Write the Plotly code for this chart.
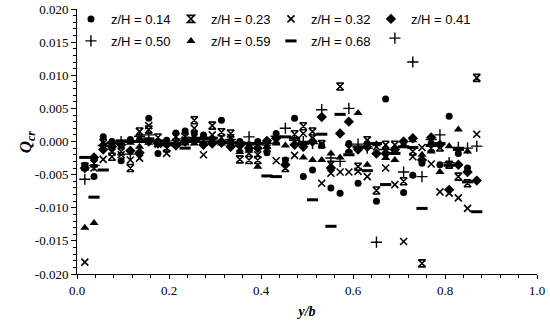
import plotly.graph_objects as go

# y/b positions of the measurement columns
y_b = [0.017, 0.037, 0.057, 0.076, 0.096, 0.116, 0.136, 0.156, 0.176, 0.195,
       0.215, 0.235, 0.255, 0.275, 0.294, 0.314, 0.334, 0.354, 0.374, 0.393,
       0.413, 0.433, 0.453, 0.473, 0.492, 0.512, 0.532, 0.552, 0.572, 0.591,
       0.611, 0.631, 0.651, 0.671, 0.691, 0.710, 0.730, 0.750, 0.770, 0.789,
       0.809, 0.829, 0.849, 0.869]

q_014 = [-0.0036, -0.0053, 0.0007, 0.0000, -0.0029, 0.0003, 0.0003, 0.0035, -0.0018, 0.0002,
         0.0013, 0.0016, 0.0012, 0.0010, 0.0003, 0.0032, 0.0000, 0.0000, -0.0005, 0.0000,
         -0.0017, 0.0012, -0.0028, 0.0035, -0.0053, -0.0043, -0.0006, -0.0070, -0.0078, -0.0003,
         -0.0063, -0.0003, -0.0090, 0.0064, -0.0015, -0.0077, -0.0051, -0.0033, -0.0003, -0.0035,
         0.0038, -0.0018, -0.0040, None]
q_023 = [-0.0038, -0.0033, -0.0002, -0.0023, -0.0015, -0.0040, 0.0015, 0.0018, 0.0006, -0.0010,
         0.0007, 0.0007, 0.0032, 0.0002, 0.0024, 0.0014, 0.0012, -0.0027, -0.0028, -0.0028,
         -0.0005, 0.0002, -0.0040, 0.0011, 0.0023, 0.0015, -0.0004, -0.0035, 0.0083, -0.0010,
         -0.0038, 0.0002, -0.0074, -0.0005, -0.0005, -0.0060, -0.0015, -0.0184, -0.0010, -0.0009,
         -0.0035, -0.0053, -0.0063, 0.0096]
q_032 = [-0.0182, -0.0040, -0.0027, -0.0016, -0.0020, -0.0028, -0.0025, 0.0024, -0.0004, -0.0018,
         -0.0001, 0.0002, 0.0020, -0.0020, 0.0010, 0.0006, 0.0006, -0.0010, -0.0018, -0.0020,
         -0.0010, -0.0029, -0.0030, -0.0021, 0.0012, 0.0005, -0.0063, -0.0048, -0.0046, -0.0046,
         -0.0045, -0.0053, -0.0008, -0.0040, -0.0065, -0.0151, -0.0023, -0.0009, -0.0034, -0.0076,
         -0.0078, -0.0085, -0.0101, 0.0011]
q_041 = [-0.0040, -0.0024, -0.0012, -0.0008, -0.0005, -0.0014, -0.0017, 0.0000, -0.0003, -0.0004,
         -0.0006, 0.0000, 0.0003, -0.0005, -0.0003, -0.0002, -0.0008, -0.0006, -0.0010, -0.0010,
         0.0001, 0.0005, -0.0035, -0.0005, -0.0008, 0.0000, 0.0037, -0.0040, 0.0012, 0.0030,
         -0.0012, -0.0008, -0.0018, -0.0018, -0.0012, 0.0000, 0.0005, -0.0028, 0.0006, -0.0005,
         -0.0073, -0.0035, -0.0046, -0.0059]
q_050 = [-0.0057, -0.0036, -0.0006, -0.0003, 0.0000, -0.0019, 0.0008, 0.0010, 0.0000, -0.0006,
         0.0001, 0.0004, 0.0006, 0.0000, 0.0000, 0.0000, 0.0003, -0.0003, 0.0007, -0.0005,
         -0.0003, 0.0008, 0.0020, 0.0002, 0.0000, -0.0003, 0.0048, -0.0025, -0.0030, 0.0050,
         -0.0004, -0.0010, -0.0152, -0.0012, 0.0156, -0.0046, 0.0120, -0.0053, 0.0003, 0.0010,
         -0.0032, -0.0009, -0.0010, -0.0007]
q_059 = [-0.0130, -0.0123, -0.0003, -0.0005, -0.0002, -0.0002, -0.0008, -0.0002, -0.0005, -0.0002,
         -0.0002, -0.0003, -0.0003, -0.0003, -0.0002, -0.0003, -0.0004, -0.0016, -0.0014, -0.0038,
         -0.0008, -0.0003, -0.0006, -0.0003, -0.0024, -0.0028, -0.0028, -0.0018, -0.0024, -0.0015,
         0.0043, -0.0035, -0.0004, -0.0025, -0.0028, -0.0005, 0.0002, -0.0020, -0.0015, -0.0046,
         -0.0007, 0.0018, -0.0015, None]
q_068 = [-0.0024, -0.0084, -0.0043, -0.0002, 0.0001, 0.0000, 0.0000, 0.0004, 0.0001, -0.0004,
         -0.0003, -0.0010, 0.0000, 0.0004, 0.0005, -0.0001, -0.0002, -0.0002, -0.0003, -0.0003,
         -0.0052, -0.0053, 0.0007, 0.0005, -0.0003, -0.0088, 0.0011, -0.0128, 0.0041, -0.0020,
         -0.0008, -0.0044, -0.0003, -0.0065, -0.0018, -0.0008, -0.0009, -0.0101, -0.0006, -0.0003,
         -0.0036, -0.0012, -0.0061, -0.0106]

series_names = ["z/H = 0.14", "z/H = 0.23", "z/H = 0.32", "z/H = 0.41",
                "z/H = 0.50", "z/H = 0.59", "z/H = 0.68"]
series_values = [q_014, q_023, q_032, q_041, q_050, q_059, q_068]

y_tick_vals = [0.020, 0.015, 0.010, 0.005, 0.000, -0.005, -0.010, -0.015, -0.020]
y_tick_text = ["0.020", "0.015", "0.010", "0.005", "0.000", "-0.005", "-0.010", "-0.015", "-0.020"]
x_tick_vals = [0.0, 0.2, 0.4, 0.6, 0.8, 1.0]
x_tick_text = ["0.0", "0.2", "0.4", "0.6", "0.8", "1.0"]

styles = [
    dict(symbol="circle", size=7, color="black"),
    dict(symbol="hourglass-open", size=7, color="black", line=dict(width=1.6, color="black")),
    dict(symbol="x-thin-open", size=7, color="black", line=dict(width=1.6, color="black")),
    dict(symbol="diamond", size=8, color="black"),
    dict(symbol="cross-thin-open", size=8, color="black", line=dict(width=1.4, color="black")),
    dict(symbol="triangle-up", size=8, color="black"),
    dict(symbol="line-ew-open", size=8, color="black", line=dict(width=3, color="black")),
]
legend_rows = ["legend", "legend", "legend", "legend", "legend2", "legend2", "legend2"]

fig = go.Figure()
for name, vals, st, lg in zip(series_names, series_values, styles, legend_rows):
    fig.add_trace(go.Scatter(x=y_b, y=vals, mode="markers", name=name, marker=st, legend=lg))

serif = "Times New Roman, Liberation Serif, serif"
sans = "Liberation Sans"
leg_common = dict(orientation="h", xanchor="left", yanchor="top", xref="container",
                  entrywidth=55, entrywidthmode="pixels", itemwidth=30,
                  font=dict(family=sans, size=13, color="black"),
                  bgcolor="rgba(0,0,0,0)", borderwidth=0)
fig.update_layout(
    width=550, height=327,
    margin=dict(l=77, r=13, t=9, b=53, autoexpand=False),
    paper_bgcolor="white", plot_bgcolor="white",
    showlegend=True,
    legend=dict(x=0.129, y=1.019, **leg_common),
    legend2=dict(x=0.129, y=0.936, **leg_common),
    xaxis=dict(range=[0, 1.0], tickvals=x_tick_vals, ticktext=x_tick_text,
               showline=True, linecolor="black", linewidth=1, mirror=False,
               ticks="outside", ticklen=4, tickcolor="black", showgrid=False, zeroline=False,
               minor=dict(dtick=0.04, ticks="outside", ticklen=3, tickcolor="black", showgrid=False),
               tickfont=dict(family=serif, size=13, color="black"), ticklabeloverflow="allow",
               title=dict(text="<b><i>y/b</i></b>", font=dict(family=serif, size=14, color="black"),
                          standoff=9)),
    yaxis=dict(range=[-0.020, 0.020], tickvals=y_tick_vals, ticktext=y_tick_text,
               showline=True, linecolor="black", linewidth=1, mirror=False,
               ticks="outside", ticklen=5, tickcolor="black", showgrid=False, zeroline=False,
               minor=dict(dtick=0.001, ticks="outside", ticklen=3, tickcolor="black", showgrid=False),
               tickfont=dict(family=serif, size=13, color="black")),
    annotations=[dict(text="<b><i>Q</i></b><sub><b><i>cr</i></b></sub>",
                      xref="paper", yref="paper", x=-0.109, y=0.5,
                      xanchor="center", yanchor="middle", textangle=-90, showarrow=False,
                      font=dict(family=serif, size=17, color="black"))],
)

fig.write_html("out.html", config={"displayModeBar": False},
               post_script="document.body.style.margin='0';document.body.style.overflow='hidden';")
